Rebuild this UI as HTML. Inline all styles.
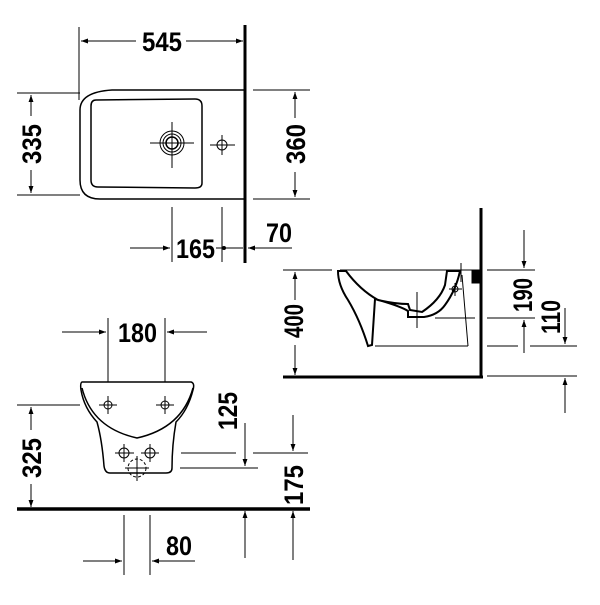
<!DOCTYPE html>
<html><head><style>
html,body{margin:0;padding:0;background:#fff}
svg text{font-family:"Liberation Sans Narrow","Liberation Sans",sans-serif;font-weight:bold;font-size:27px;fill:#000}
</style></head><body>
<svg width="600" height="600" viewBox="0 0 600 600" xmlns="http://www.w3.org/2000/svg">
<defs>
<marker id="a" viewBox="0 0 10 10" refX="10" refY="5" markerWidth="9" markerHeight="7" orient="auto-start-reverse" markerUnits="userSpaceOnUse"><path d="M0,1.5 L10,5 L0,8.5z" fill="#000"/></marker>
</defs>
<g stroke="#000" stroke-width="1" fill="none">
<line x1="245" y1="25" x2="245" y2="263" stroke-width="3"/>
<line x1="79" y1="27" x2="79" y2="100"/>
<line x1="81" y1="41" x2="136" y2="41" marker-start="url(#a)"/>
<line x1="186" y1="41" x2="243" y2="41" marker-end="url(#a)"/>
<path d="M244,90 L112,90 Q80,92 80,110 L80,180 Q80,199 100,199 L244,199" stroke-width="1.5"/>
<path d="M96,100 L195,99 Q202,99 202,106 L202,183 Q202,188 195,188 L98,187 Q91,187 91,180 L91,106 Q91,100 96,100z" stroke-width="1.5"/>
<circle cx="172" cy="143" r="12"/><circle cx="172" cy="143" r="9"/><circle cx="172" cy="143" r="6" stroke-width="1.5"/>
<line x1="150" y1="143" x2="194" y2="143"/><line x1="172" y1="122" x2="172" y2="168"/>
<circle cx="222" cy="145" r="5"/><line x1="210" y1="145" x2="235" y2="145"/><line x1="222" y1="135" x2="222" y2="155"/>
<line x1="17" y1="93" x2="80" y2="93"/><line x1="17" y1="195" x2="80" y2="195"/>
<line x1="31" y1="116" x2="31" y2="95" marker-end="url(#a)"/>
<line x1="31" y1="170" x2="31" y2="193" marker-end="url(#a)"/>
<line x1="253" y1="90" x2="310" y2="90"/><line x1="253" y1="199" x2="310" y2="199"/>
<line x1="295" y1="118" x2="295" y2="92" marker-end="url(#a)"/>
<line x1="295" y1="172" x2="295" y2="197" marker-end="url(#a)"/>
<line x1="172" y1="207" x2="172" y2="262"/><line x1="222" y1="207" x2="222" y2="262"/>
<line x1="130" y1="248" x2="170" y2="248" marker-end="url(#a)"/>
<line x1="216" y1="248" x2="243" y2="248"/>
<circle cx="224" cy="248" r="1.5" fill="#000"/>
<line x1="292" y1="248" x2="248" y2="248" marker-end="url(#a)"/>
<line x1="481" y1="208" x2="481" y2="378" stroke-width="3"/>
<line x1="283" y1="377" x2="483" y2="377" stroke-width="3"/>
<line x1="283" y1="270" x2="332" y2="270"/>
<line x1="295" y1="300" x2="295" y2="272" marker-end="url(#a)"/>
<line x1="295" y1="345" x2="295" y2="375" marker-end="url(#a)"/>
<line x1="340" y1="270" x2="480" y2="270"/>
<path d="M338,271 L346,271 Q360,290 378,300 Q395,304 408,304 L410,310 L422,312 Q440,300 445,285 L447,271 L460,271 Q456,290 445,305 Q438,315 424,317 L408,317 L408,311 Q400,306 375,299 L372,345 L368,346 Q360,320 348,300 Q338,285 338,271z" stroke-width="2"/>
<line x1="375" y1="346" x2="468" y2="346"/>
<line x1="462" y1="275" x2="468" y2="346"/>
<rect x="472" y="271" width="8" height="12" fill="#000"/>
<line x1="435" y1="318" x2="475" y2="318"/>
<line x1="417" y1="292" x2="417" y2="328"/>
<line x1="461" y1="263" x2="461" y2="282"/>
<circle cx="455" cy="289" r="3"/><line x1="449" y1="289" x2="462" y2="289"/><line x1="455" y1="283" x2="455" y2="296"/>
<line x1="487" y1="270" x2="535" y2="270"/>
<line x1="487" y1="318" x2="535" y2="318"/>
<line x1="487" y1="346" x2="518" y2="346"/><line x1="530" y1="346" x2="577" y2="346"/>
<line x1="487" y1="376" x2="577" y2="376"/>
<line x1="524" y1="230" x2="524" y2="268" marker-end="url(#a)"/>
<line x1="524" y1="353" x2="524" y2="320" marker-end="url(#a)"/>
<line x1="565" y1="308" x2="565" y2="344" marker-end="url(#a)"/>
<line x1="565" y1="413" x2="565" y2="378" marker-end="url(#a)"/>
<line x1="108" y1="318" x2="108" y2="382"/><line x1="165" y1="318" x2="165" y2="382"/>
<line x1="62" y1="332" x2="106" y2="332" marker-end="url(#a)"/>
<line x1="207" y1="332" x2="167" y2="332" marker-end="url(#a)"/>
<path d="M82,382 L191,382 Q195,383 193,390 Q188,410 176,422 Q172,445 172,468 Q172,473 166,473 L110,473 Q105,473 104,466 Q102,440 97,422 Q84,408 81,390 Q80,383 82,382z" stroke-width="1.5"/>
<path d="M82,388 Q92,428 137,438 Q182,428 193,388" stroke-width="1.5"/>
<circle cx="108" cy="405" r="4"/><line x1="99" y1="405" x2="117" y2="405"/><line x1="108" y1="396" x2="108" y2="414"/>
<circle cx="165" cy="405" r="4"/><line x1="156" y1="405" x2="174" y2="405"/><line x1="165" y1="396" x2="165" y2="414"/>
<circle cx="124" cy="453" r="5"/><line x1="115" y1="453" x2="134" y2="453"/><line x1="124" y1="444" x2="124" y2="462"/>
<circle cx="150" cy="453" r="5"/><line x1="141" y1="453" x2="159" y2="453"/><line x1="150" y1="444" x2="150" y2="462"/>
<circle cx="137" cy="468" r="9" stroke-dasharray="3,2"/><line x1="125" y1="468" x2="149" y2="468"/><line x1="137" y1="456" x2="137" y2="481"/>
<line x1="17" y1="405" x2="80" y2="405"/>
<line x1="31" y1="430" x2="31" y2="407" marker-end="url(#a)"/>
<line x1="31" y1="484" x2="31" y2="507" marker-end="url(#a)"/>
<line x1="17" y1="509" x2="310" y2="509" stroke-width="3.5"/>
<line x1="181" y1="453" x2="236" y2="453"/>
<line x1="180" y1="468" x2="258" y2="468"/>
<line x1="245" y1="423" x2="245" y2="466" marker-end="url(#a)"/>
<line x1="253" y1="453" x2="308" y2="453"/>
<line x1="293" y1="415" x2="293" y2="451" marker-end="url(#a)"/>
<line x1="293" y1="560" x2="293" y2="511" marker-end="url(#a)"/>
<line x1="245" y1="558" x2="245" y2="511" marker-end="url(#a)"/>
<line x1="124" y1="515" x2="124" y2="575"/><line x1="150" y1="515" x2="150" y2="575"/>
<line x1="83" y1="561" x2="122" y2="561" marker-end="url(#a)"/>
<line x1="195" y1="561" x2="152" y2="561" marker-end="url(#a)"/>
</g>
<text x="142" y="51" textLength="40" lengthAdjust="spacingAndGlyphs">545</text>
<text x="176" y="258" textLength="39" lengthAdjust="spacingAndGlyphs">165</text>
<text x="266" y="242" textLength="26" lengthAdjust="spacingAndGlyphs">70</text>
<text transform="translate(41,164) rotate(-90)" textLength="40" lengthAdjust="spacingAndGlyphs">335</text>
<text transform="translate(305,164) rotate(-90)" textLength="40" lengthAdjust="spacingAndGlyphs">360</text>
<text transform="translate(303,338) rotate(-90)" font-size="21" textLength="34" lengthAdjust="spacingAndGlyphs">400</text>
<text transform="translate(532,312) rotate(-90)" font-size="21" textLength="34" lengthAdjust="spacingAndGlyphs">190</text>
<text transform="translate(560,334) rotate(-90)" font-size="21" textLength="34" lengthAdjust="spacingAndGlyphs">110</text>
<text x="118" y="342" textLength="39" lengthAdjust="spacingAndGlyphs">180</text>
<text transform="translate(41,478) rotate(-90)" textLength="40" lengthAdjust="spacingAndGlyphs">325</text>
<text transform="translate(237,430) rotate(-90)" textLength="38" lengthAdjust="spacingAndGlyphs">125</text>
<text transform="translate(303,505) rotate(-90)" textLength="40" lengthAdjust="spacingAndGlyphs">175</text>
<text x="166" y="555" textLength="26" lengthAdjust="spacingAndGlyphs">80</text>
</svg>
</body></html>
